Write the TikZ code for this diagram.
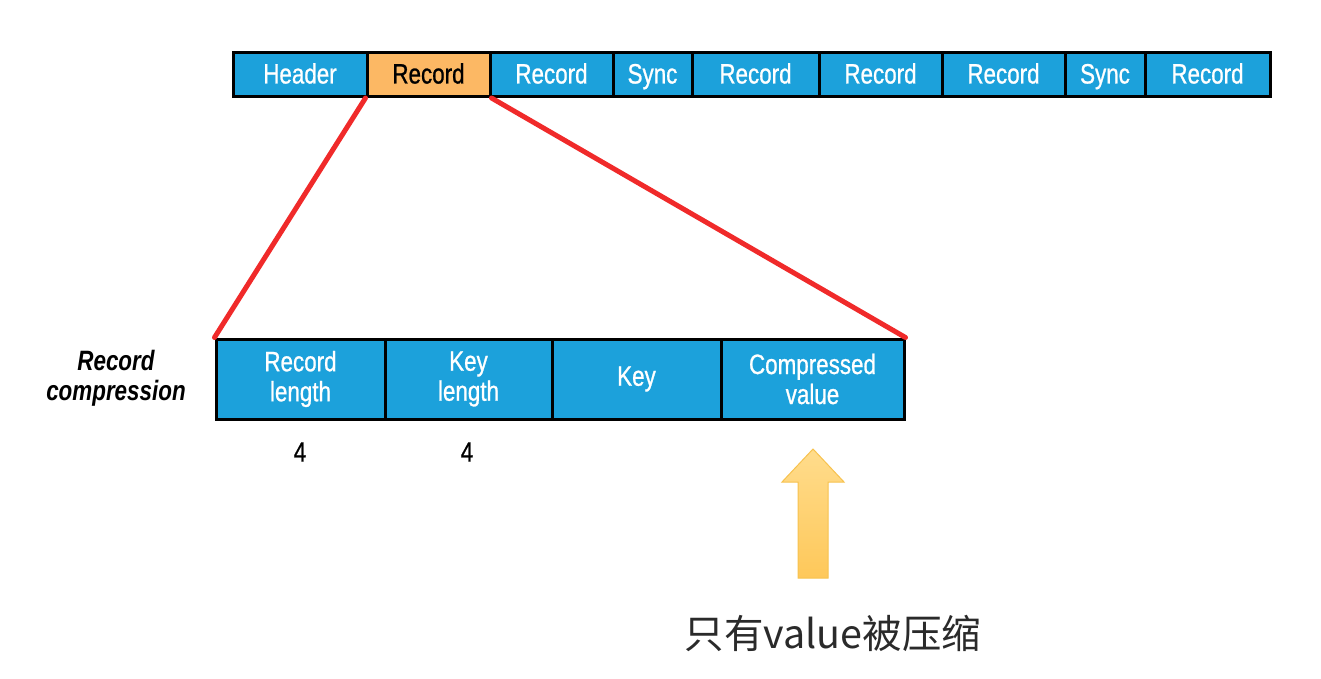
\documentclass[tikz,border=0pt]{standalone}
\usepackage{fontspec}
\setmainfont{Liberation Sans}
\newfontfamily\condfont[FakeStretch=0.8,FakeBold=0.8]{Liberation Sans}
\newfontfamily\condbifont[FakeStretch=0.8]{Liberation Sans}
\newfontfamily\cjk{Noto Sans CJK SC}
\definecolor{boxblue}{HTML}{1CA1DB}
\definecolor{boxorange}{HTML}{FCB864}
\definecolor{linered}{HTML}{F02A2A}
\definecolor{arrowtop}{HTML}{FFDC8C}
\definecolor{arrowbot}{HTML}{FEC85A}
\definecolor{arrowedge}{HTML}{F7C24E}
\definecolor{cjkgray}{HTML}{2A2A2A}
\begin{document}
\begin{tikzpicture}[x=1pt,y=-1pt,
  cell/.style={draw=black, line width=3pt, fill=boxblue, text=white, inner sep=0pt,
    font=\condfont\fontsize{28}{30}\selectfont, align=center},
  topcell/.style={cell, minimum height=44pt, text height=22pt, text depth=4pt},
  botcell/.style={cell, minimum height=80pt},
  hilite/.style={fill=boxorange, text=black},
  plain/.style={font=\condfont\fontsize{28}{30}\selectfont, text=black, inner sep=0pt},
  zoomline/.style={draw=linered, line width=5pt, line cap=round}]
\useasboundingbox (0,0) rectangle (1321,679);
% top bar
\node[topcell, minimum width=134pt] (h0) at (300,74.5) {Header};
\node[topcell, hilite, minimum width=123pt] (r1) at (428.5,74.5) {Record};
\node[topcell, minimum width=123pt] (r2) at (551.5,74.5) {Record};
\node[topcell, minimum width=79pt] (s1) at (652.5,74.5) {Sync};
\node[topcell, minimum width=127pt] (r3) at (755.5,74.5) {Record};
\node[topcell, minimum width=123pt] (r4) at (880.5,74.5) {Record};
\node[topcell, minimum width=123pt] (r5) at (1003.5,74.5) {Record};
\node[topcell, minimum width=80pt] (s2) at (1105,74.5) {Sync};
\node[topcell, minimum width=125pt] (r6) at (1207.5,74.5) {Record};
% bottom bar
\node[botcell, minimum width=169pt] (b1) at (300.5,379) {Record\\length};
\node[botcell, minimum width=167pt] (b2) at (468.5,379) {Key\\length};
\node[botcell, minimum width=169pt] (b3) at (636.5,379) {Key};
\node[botcell, minimum width=183pt] (b4) at (812.5,379) {Compressed\\value};
% zoom lines
\draw[zoomline] (r1.south west) -- (b1.north west);
\draw[zoomline] (r1.south east) -- (b4.north east);
% labels
\node[plain] (n1) at (300,452) {4};
\node[plain] (n2) at (467,452) {4};
\node[plain, align=center, font=\condbifont\bfseries\itshape\fontsize{28}{30}\selectfont] (lbl) at (116,378) {Record\\compression};
% block arrow
\shade[top color=arrowtop, bottom color=arrowbot, draw=arrowedge, line width=1pt]
  (813,449) -- (844,482) -- (828,482) -- (828,578) -- (798,578) -- (798,482) -- (782,482) -- cycle;
% caption
\node[text=cjkgray, font=\cjk\fontsize{39.5}{42}\selectfont, inner sep=0pt] (cap) at (833,633) {只有value被压缩};
\end{tikzpicture}
\end{document}
